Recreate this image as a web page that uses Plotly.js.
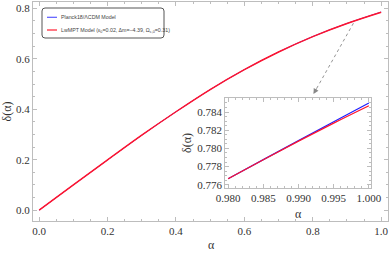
<!DOCTYPE html>
<html>
<head>
<meta charset="utf-8">
<script src="https://cdn.plot.ly/plotly-3.0.1.min.js"></script>
<style>html,body{margin:0;padding:0;background:#fff;}#chart{width:390px;height:253px;}</style>
</head>
<body>
<div id="chart"></div>
<script>
// ---- data ----
const alpha = [0.0, 0.1, 0.2, 0.3, 0.4, 0.5, 0.6, 0.7, 0.8, 0.9, 1.0];
const deltaLCDM = [0.000, 0.100, 0.199, 0.297, 0.390, 0.478, 0.557, 0.627, 0.688, 0.740, 0.7850];
const deltaLwMPT = [0.000, 0.100, 0.199, 0.297, 0.390, 0.478, 0.557, 0.627, 0.688, 0.740, 0.7847];

const alphaZoom = [0.980, 0.985, 0.990, 0.995, 1.000];
const deltaLCDMZoom = [0.77666, 0.77876, 0.78085, 0.78293, 0.78499];
const deltaLwMPTZoom = [0.77666, 0.77875, 0.78080, 0.78278, 0.78469];

const seriesNames = ['Planck18/ΛCDM Model', 'LwMPT Model (ε<sub>0</sub>=0.02, Δm=−4.39, Ω<sub>c,0</sub>=0.31)'];
const seriesColors = ['rgb(30,30,255)', 'rgb(255,20,45)'];

const mainTicksX = [0, 0.2, 0.4, 0.6, 0.8, 1.0];
const mainTicksY = [0, 0.2, 0.4, 0.6, 0.8];
const xTitle = 'α', yTitle = 'δ(α)';

// ---- geometry helpers ----
const W = 390, H = 253;
const M = {l: 33, r: 2, t: 2, b: 32};
const PW = W - M.l - M.r, PH = H - M.t - M.b;
const px = x => (x - M.l) / PW;
const py = y => (H - M.b - y) / PH;

const serif = 'Liberation Serif, Times New Roman, serif';
const frameColor = '#bdbdbd';
const labelColor = '#333';
const titleFont = {family: serif, size: 12, color: labelColor};

const traces = [
  {x: alpha, y: deltaLCDM, mode: 'lines', line: {color: seriesColors[0], width: 0.9, shape: 'spline'}, name: seriesNames[0], xaxis: 'x', yaxis: 'y', showlegend: false},
  {x: alpha, y: deltaLwMPT, mode: 'lines', line: {color: seriesColors[1], width: 1.5, shape: 'spline'}, name: seriesNames[1], xaxis: 'x', yaxis: 'y', showlegend: false},
  {x: alphaZoom, y: deltaLCDMZoom, mode: 'lines', line: {color: seriesColors[0], width: 1.2, shape: 'spline'}, name: seriesNames[0], xaxis: 'x2', yaxis: 'y2', showlegend: false},
  {x: alphaZoom, y: deltaLwMPTZoom, mode: 'lines', line: {color: seriesColors[1], width: 1.3, shape: 'spline'}, name: seriesNames[1], xaxis: 'x2', yaxis: 'y2', showlegend: false}
];

function axisBase(extra) {
  return Object.assign({
    showline: true, linecolor: frameColor, linewidth: 1, mirror: 'ticks',
    ticks: 'inside', ticklen: 4, tickcolor: frameColor, tickwidth: 1,
    showgrid: false, zeroline: false,
    tickfont: {family: serif, size: 11, color: labelColor}
  }, extra);
}

// rounded legend box
function roundRect(x0, y0, x1, y1, r) {
  const rx = r / PW, ry = r / PH;
  const X0 = px(x0), X1 = px(x1), Y0 = py(y0), Y1 = py(y1);
  return `M${X0 + rx},${Y0} L${X1 - rx},${Y0} Q${X1},${Y0} ${X1},${Y0 - ry} L${X1},${Y1 + ry} Q${X1},${Y1} ${X1 - rx},${Y1} L${X0 + rx},${Y1} Q${X0},${Y1} ${X0},${Y1 + ry} L${X0},${Y0 - ry} Q${X0},${Y0} ${X0 + rx},${Y0} Z`;
}

const legendRows = [17.3, 30];
const legendLineColors = ['rgb(90,90,255)', 'rgb(255,30,50)'];
const shapes = [
  {type: 'path', xref: 'paper', yref: 'paper', path: roundRect(42, 8, 164, 38, 3), line: {color: '#555', width: 1}, fillcolor: 'white', layer: 'above'},
  {type: 'line', xref: 'x', yref: 'y', x0: 0.919, y0: 0.741, x1: 0.807, y1: 0.472, line: {color: '#888', width: 0.9, dash: 'dot'}}
];
const annotations = [
  {xref: 'x', yref: 'y', x: 0.802, y: 0.460, ax: 4, ay: -7, text: '', showarrow: true, arrowhead: 2, arrowsize: 1.2, arrowwidth: 0.9, arrowcolor: '#888'},
  {xref: 'paper', yref: 'paper', x: px(211), y: py(253), xanchor: 'center', yanchor: 'bottom', borderpad: 0, text: xTitle, showarrow: false, font: titleFont},
  {xref: 'paper', yref: 'paper', x: px(298), y: py(213.5), xanchor: 'center', yanchor: 'middle', text: xTitle, showarrow: false, font: titleFont}
];
legendRows.forEach((yy, i) => {
  shapes.push({type: 'line', xref: 'paper', yref: 'paper', x0: px(47), x1: px(57), y0: py(yy), y1: py(yy), line: {color: legendLineColors[i], width: 1.2}, layer: 'above'});
  annotations.push({xref: 'paper', yref: 'paper', x: px(59), y: py(yy), xanchor: 'left', yanchor: 'middle', text: seriesNames[i], showarrow: false, font: {family: 'Liberation Sans, Arial, sans-serif', size: 5.3, color: '#444'}});
});

const layout = {
  width: W, height: H,
  margin: M,
  paper_bgcolor: 'white', plot_bgcolor: 'white',
  showlegend: false,
  xaxis: axisBase({domain: [0, 1], range: [-0.018, 1.02], tickvals: mainTicksX, tickformat: '.1f',
    minor: {ticks: 'inside', ticklen: 2, dtick: 0.05, tickcolor: frameColor}}),
  yaxis: axisBase({domain: [0, 1], range: [-0.043, 0.825], tickvals: mainTicksY, tickformat: '.1f',
    minor: {ticks: 'inside', ticklen: 2, dtick: 0.05, tickcolor: frameColor},
    title: {text: yTitle, font: titleFont, standoff: 6}}),
  xaxis2: axisBase({domain: [px(225.3), px(371)], anchor: 'y2', range: [0.9796, 1.0003], dtick: 0.005, tick0: 0.98, tickformat: '.3f',
    minor: {ticks: 'inside', ticklen: 2, dtick: 0.001, tickcolor: frameColor}}),
  yaxis2: axisBase({domain: [py(188), py(98)], anchor: 'x2', range: [0.77564, 0.78554], dtick: 0.002, tick0: 0.776, tickformat: '.3f',
    minor: {ticks: 'inside', ticklen: 2, dtick: 0.0005, tickcolor: frameColor},
    title: {text: yTitle, font: titleFont, standoff: 3}}),
  shapes: shapes,
  annotations: annotations
};

Plotly.newPlot('chart', traces, layout, {staticPlot: true, displayModeBar: false});
</script>
</body>
</html>
